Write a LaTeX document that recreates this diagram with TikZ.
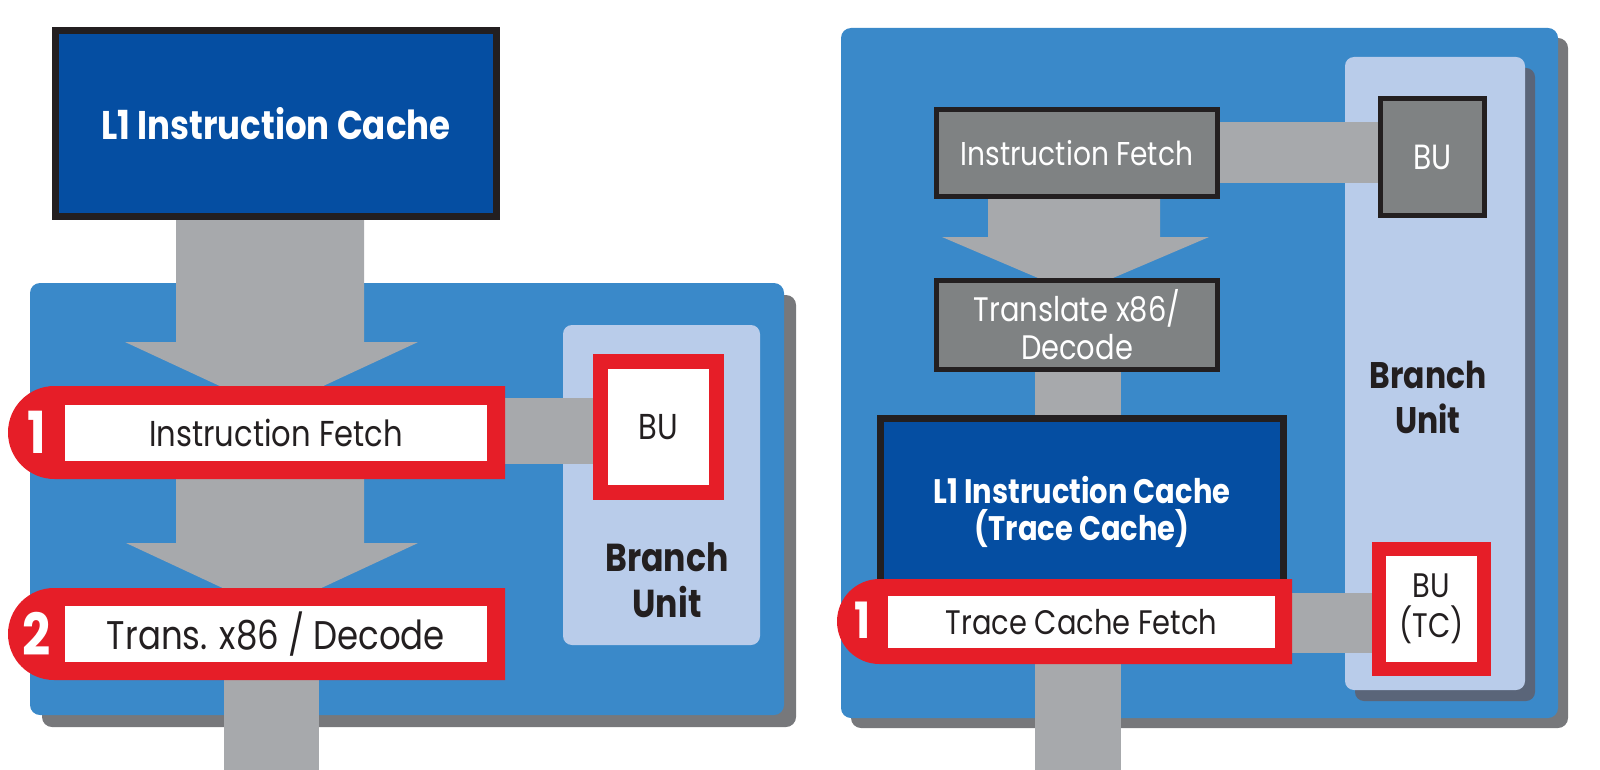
\documentclass[tikz,border=0pt]{standalone}
\usepackage{fontspec}
\setmainfont{Poppins}[FakeStretch=0.85]
\usetikzlibrary{shapes.misc,calc,shadows}
\definecolor{panelblue}{HTML}{3A89C9}
\definecolor{darkblue}{HTML}{054EA2}
\definecolor{arrowgray}{HTML}{A7A9AC}
\definecolor{bred}{HTML}{E61E28}
\definecolor{lightblue}{HTML}{B9CCEA}
\definecolor{boxgray}{HTML}{7F8283}
\definecolor{shadowgray}{HTML}{77787B}
\definecolor{lbshadow}{HTML}{5A6579}
\definecolor{boxblack}{HTML}{231F20}
\definecolor{txt}{HTML}{231F20}
\pgfdeclarelayer{bg}
\pgfdeclarelayer{arr}
\pgfsetlayers{bg,arr,main}
\begin{document}
\begin{tikzpicture}[x=1pt,y=-1pt,
  every node/.style={inner sep=0pt,outer sep=0pt},
  panel/.style={fill=panelblue, rounded corners=10pt},
  lightbox/.style={fill=lightblue, rounded corners=9pt},
  cache/.style={draw=boxblack, line width=7pt, fill=darkblue, text=white, align=center},
  graybox/.style={draw=boxblack, line width=5pt, fill=boxgray, text=white, align=center},
  badge/.style={rounded rectangle, rounded rectangle right arc=none, fill=bred},
  whitebox/.style={fill=white, text=txt, align=center},
  redbox/.style={draw=bred, fill=white, text=txt, align=center},
  num/.style={text=white, font=\bfseries\fontsize{58}{58}\selectfont},
  boldlabel/.style={text=txt, align=center},
  shaft/.style={draw=arrowgray}
]
\useasboundingbox (0,0) rectangle (1600,770);

% ---------- panels ----------
\begin{pgfonlayer}{bg}
\node[panel, drop shadow={shadow xshift=12pt,shadow yshift=-12pt,fill=shadowgray,opacity=1},
      minimum width=754, minimum height=432] (panelL) at (407,499) {};
\node[lightbox, minimum width=197, minimum height=320] (lightL) at (661.5,485) {};
\node[panel, drop shadow={shadow xshift=10pt,shadow yshift=-10pt,fill=shadowgray,opacity=1},
      minimum width=717, minimum height=690] (panelR) at (1199.5,373) {};
\node[lightbox, drop shadow={shadow xshift=10pt,shadow yshift=-11pt,fill=lbshadow,opacity=1},
      minimum width=180, minimum height=633] (lightR) at (1435,373.5) {};
\end{pgfonlayer}

% ---------- left side ----------
\node[cache, minimum width=441, minimum height=186,
      font=\bfseries\fontsize{40}{46}\selectfont] (L1L) at (276,123.5)
  {L1 Instruction Cache};

\node[badge, minimum width=497, minimum height=93] (b1) at (256.5,432.5) {};
\node[whitebox, minimum width=422, minimum height=56,
      font=\fontsize{36}{40}\selectfont] (fetchL) at (276,433)
  {Instruction Fetch};
\node[num] (n1) at (37,432) {1};

\node[badge, minimum width=497, minimum height=92] (b2) at (256.5,634) {};
\node[whitebox, minimum width=422, minimum height=56,
      font=\fontsize{40}{42}\selectfont] (decL) at (276,634)
  {Trans. x86 / Decode};
\node[num] (n2) at (37,634) {2};

\node[redbox, line width=15pt, minimum width=116, minimum height=131,
      font=\fontsize{36}{40}\selectfont] (buL) at (658.5,427)
  {BU};
\node[boldlabel, font=\bfseries\fontsize{39}{46}\selectfont] (brL) at (667,580)
  {Branch\\Unit};

\coordinate (outL) at (271.5,780);

% ---------- right side ----------
\node[graybox, minimum width=281, minimum height=87,
      font=\fontsize{33}{40}\selectfont] (fetchR) at (1077,153)
  {Instruction Fetch};
\node[graybox, minimum width=104, minimum height=117,
      font=\fontsize{35}{40}\selectfont] (buR) at (1432.5,157)
  {BU};
\node[graybox, minimum width=281, minimum height=89,
      font=\fontsize{34}{38}\selectfont] (transR) at (1077,325)
  {Translate x86/\\Decode};
\node[cache, minimum width=403, minimum height=186,
      font=\bfseries\fontsize{34}{37}\selectfont] (L1TC) at (1082,511.5)
  {L1 Instruction Cache\\(Trace Cache)};
\node[badge, minimum width=455, minimum height=85] (bR) at (1064.5,621.5) {};
\node[whitebox, minimum width=387, minimum height=52,
      font=\fontsize{34}{38}\selectfont] (tcf) at (1081.5,622)
  {Trace Cache Fetch};
\node[num, font=\bfseries\fontsize{50}{50}\selectfont] (n3) at (862,620) {1};
\node[redbox, line width=14pt, minimum width=105, minimum height=120,
      font=\fontsize{34}{40}\selectfont] (butc) at (1431.5,609)
  {BU\\(TC)};
\node[boldlabel, font=\bfseries\fontsize{37}{45}\selectfont] (brR) at (1428,397.5)
  {Branch\\Unit};

\coordinate (outR) at (1078,780);

% ---------- gray arrows and connectors ----------
\begin{pgfonlayer}{arr}
\fill[arrowgray] (176,0 |- L1L.center) -- (176,342) -- (125,342) -- (271.5,410)
  -- (418,342) -- (364,342) -- (364,0 |- L1L.center) -- cycle;
\fill[arrowgray] (176,0 |- b1.center) -- (176,543) -- (126,543) -- (272,611)
  -- (418,543) -- (364,543) -- (364,0 |- b1.center) -- cycle;
\draw[shaft, line width=95pt] (271.5,0 |- b2.center) -- (outL);
\draw[shaft, line width=66pt] (b1.center |- 0,431) -- (buL.center |- 0,431);

\draw[shaft, line width=61pt] (fetchR.center |- 0,152.5) -- (buR.center |- 0,152.5);
\fill[arrowgray] (988,0 |- fetchR.center) -- (988,237) -- (942,237) -- (1075.5,294)
  -- (1209,237) -- (1160,237) -- (1160,0 |- fetchR.center) -- cycle;
\draw[shaft, line width=86pt] (1078,0 |- transR.center) -- (1078,0 |- L1TC.center);
\draw[shaft, line width=60pt] (bR.center |- 0,623) -- (butc.center |- 0,623);
\draw[shaft, line width=86pt] (1078,0 |- bR.center) -- (outR);
\end{pgfonlayer}
\end{tikzpicture}
\end{document}
